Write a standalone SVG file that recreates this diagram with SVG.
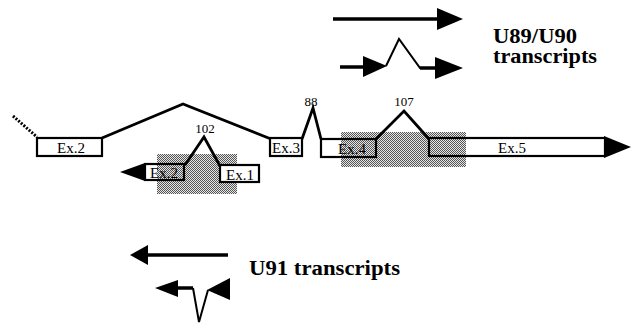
<svg xmlns="http://www.w3.org/2000/svg" width="634" height="326" viewBox="0 0 634 326">
<defs>
<pattern id="dots" width="2" height="2" patternUnits="userSpaceOnUse">
<rect width="2" height="2" fill="#e6e6e6"/>
<rect x="0" y="0" width="1" height="1" fill="#555"/>
<rect x="1" y="1" width="1" height="1" fill="#555"/>
</pattern>
<style>
.box{fill:none;stroke:#000;stroke-width:2.2}
.boxw{fill:#fff;stroke:#000;stroke-width:2.2}
.ln{fill:none;stroke:#000;stroke-width:2.8;stroke-linejoin:miter}
.thk{fill:none;stroke:#000;stroke-width:3.5}
.thin{fill:none;stroke:#000;stroke-width:2}
.hd{fill:#000;stroke:none}
.ex{font-family:"Liberation Serif",serif;font-size:15px;text-anchor:middle;fill:#000}
.num{font-family:"Liberation Serif",serif;font-size:13px;text-anchor:middle;fill:#000}
.lbl{font-family:"Liberation Serif",serif;font-size:20px;font-weight:bold;fill:#000}
</style>
</defs>
<rect width="634" height="326" fill="#fff"/>
<g id="shading">
<rect x="157" y="154" width="80" height="40" fill="url(#dots)"/>
<rect x="341" y="132" width="125" height="35" fill="url(#dots)"/>
</g>
<g id="connectors">
<path d="M13,116 L37,137" fill="none" stroke="#000" stroke-width="3" stroke-dasharray="2,1.5"/>
<path class="ln" d="M102,138 L183,104 L271,139"/>
<path class="ln" d="M302,139 L313,108 L321,139"/>
<path class="ln" d="M376,139 L404,111 L429,139"/>
<path class="ln" d="M185,165 L204,137 L220,166"/>
</g>
<g id="ex2">
<rect class="boxw" x="37" y="138" width="65" height="18"/>
<text class="ex" x="71" y="153">Ex.2</text>
</g>
<g id="ex3">
<rect class="boxw" x="270" y="138" width="32" height="18"/>
<text class="ex" x="286" y="153">Ex.3</text>
</g>
<g id="ex4">
<rect class="box" x="321" y="139" width="55" height="18"/>
<text class="ex" x="352" y="154">Ex.4</text>
</g>
<g id="ex5">
<rect class="box" x="429" y="138" width="176" height="18"/>
<polygon class="hd" points="604,136 631,147 604,158"/>
<text class="ex" x="512" y="153">Ex.5</text>
</g>
<g id="ex2b">
<polygon class="hd" points="145,163 120,172 145,181"/>
<rect class="box" x="145" y="164" width="39" height="16"/>
<text class="ex" x="164" y="178">Ex.2</text>
</g>
<g id="ex1">
<rect class="boxw" x="220" y="165" width="39" height="17"/>
<text class="ex" x="240" y="180">Ex.1</text>
</g>
<g id="numbers">
<text class="num" x="311" y="106">88</text>
<text class="num" x="404" y="106">107</text>
<text class="num" x="205" y="133">102</text>
</g>
<g id="u89">
<path class="thk" d="M333,19 L440,19"/>
<polygon class="hd" points="437,8 463,19 437,30"/>
<path class="thk" d="M340,67 L366,67"/>
<polygon class="hd" points="363,56 387,66 363,77"/>
<path class="thin" d="M386,66 L399,39 L420,68 L436,68"/>
<path class="thk" d="M420,68 L437,68"/>
<polygon class="hd" points="435,57 463,68 435,79"/>
<text class="lbl" x="493" y="43" textLength="84" lengthAdjust="spacingAndGlyphs">U89/U90</text>
<text class="lbl" x="493" y="63" textLength="104" lengthAdjust="spacingAndGlyphs">transcripts</text>
</g>
<g id="u91">
<path class="thk" d="M228,255 L145,255"/>
<polygon class="hd" points="148,245 130,255 148,265"/>
<path class="thk" d="M176,288 L193,288"/>
<polygon class="hd" points="178,280 155,288 178,297"/>
<path class="thin" d="M193,288 L199,322 L208,290"/>
<polygon class="hd" points="230,278 207,290 230,300"/>
<text class="lbl" x="249" y="275" textLength="151" lengthAdjust="spacingAndGlyphs">U91 transcripts</text>
</g>
</svg>
